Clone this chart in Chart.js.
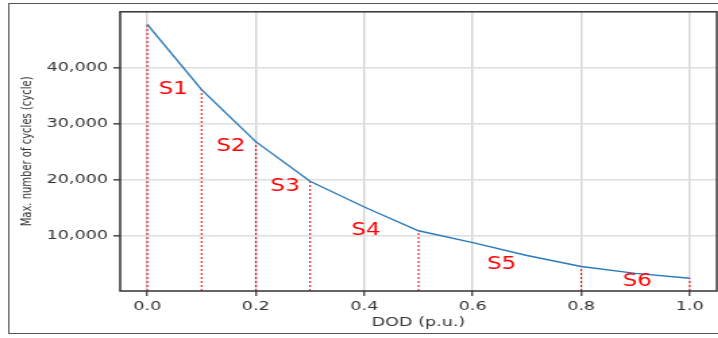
<!DOCTYPE html>
<html>
<head>
<meta charset="utf-8">
<script src="https://cdn.jsdelivr.net/npm/chart.js@4"></script>
<style>
  html, body { margin: 0; padding: 0; background: #fff; overflow: hidden; }
  #wrap { width: 532px; height: 338px; transform: scaleX(1.35); transform-origin: 0 0; }
</style>
</head>
<body>
<div id="wrap"><canvas id="chart" width="532" height="338"></canvas></div>
<script>
// curve: max number of cycles vs depth of discharge
const dod = [0.0, 0.1, 0.2, 0.3, 0.4, 0.5, 0.6, 0.7, 0.8, 0.9, 1.0];
const cycles = [47640, 36030, 26770, 19710, 15120, 10890, 8770, 6480, 4530, 3300, 2420];

// segment boundaries (red dotted lines)
const markers = [0.0, 0.1, 0.2, 0.3, 0.5, 0.8, 1.0];

// segment labels
const segNames = ['S1', 'S2', 'S3', 'S4', 'S5', 'S6'];
const segX = [0.048, 0.154, 0.254, 0.403, 0.653, 0.903];
const segY = [36030, 25890, 18830, 10890, 4890, 1800];

const xTicks = [0.0, 0.2, 0.4, 0.6, 0.8, 1.0];
const yTicks = [10000, 20000, 30000, 40000];

const X_MIN = -0.05, X_MAX = 1.05;
const Y_MIN = 160, Y_MAX = 49900;

const FONT = 'DejaVu Sans';

const markerSets = markers.map(m => ({
  data: [{ x: m, y: Y_MIN }, { x: m, y: cycles[dod.indexOf(m)] }],
  borderColor: '#ff0000',
  borderWidth: 1,
  borderDash: [2, 2],
  pointRadius: 0,
  order: 2,
}));

const extras = {
  id: 'extras',
  afterDraw(chart) {
    const ctx = chart.ctx;
    const { left, top, right, bottom } = chart.chartArea;
    const xs = chart.scales.x, ys = chart.scales.y;
    ctx.save();
    // segment labels
    ctx.fillStyle = '#ff0000';
    ctx.font = '17px "' + FONT + '"';
    ctx.textAlign = 'center';
    ctx.textBaseline = 'middle';
    segNames.forEach((s, i) => {
      ctx.fillText(s, xs.getPixelForValue(segX[i]), ys.getPixelForValue(segY[i]));
    });
    // axes frame
    ctx.strokeStyle = '#333';
    ctx.lineWidth = 1.5;
    ctx.strokeRect(left, top, right - left, bottom - top);
    // figure border
    ctx.strokeStyle = '#555';
    ctx.lineWidth = 1;
    ctx.strokeRect(6.5, 3.5, 600, 330);
    ctx.restore();
  }
};

new Chart(document.getElementById('chart').getContext('2d'), {
  type: 'line',
  data: {
    datasets: [
      {
        data: dod.map((d, i) => ({ x: d, y: cycles[i] })),
        borderColor: '#2a7ab9',
        borderWidth: 1.4,
        pointRadius: 0,
        tension: 0,
        order: 1,
      },
      ...markerSets,
    ],
  },
  options: {
    responsive: false,
    animation: false,
    devicePixelRatio: 1,
    layout: { padding: { top: 9, right: 1, left: 0, bottom: 0 } },
    plugins: { legend: { display: false }, tooltip: { enabled: false } },
    scales: {
      x: {
        type: 'linear',
        min: X_MIN,
        max: X_MAX,
        afterBuildTicks: s => { s.ticks = xTicks.map(v => ({ value: v })); },
        afterFit: s => { s.height = 47; },
        ticks: {
          callback: v => v.toFixed(1),
          font: { family: FONT, size: 13 },
          color: '#333',
          padding: 3,
          maxRotation: 0,
        },
        grid: { color: '#d4d4d4', lineWidth: 1.4, tickLength: 5, tickColor: '#555' },
        border: { display: false },
        title: {
          display: true,
          text: 'DOD (p.u.)',
          font: { family: FONT, size: 13 },
          color: '#333',
          padding: { top: 8, bottom: 8 },
        },
      },
      y: {
        min: Y_MIN,
        max: Y_MAX,
        afterBuildTicks: s => { s.ticks = yTicks.map(v => ({ value: v })); },
        afterFit: s => { s.width = 89; },
        ticks: {
          callback: v => v.toLocaleString('en-US'),
          font: { family: FONT, size: 13 },
          color: '#333',
          padding: 4,
        },
        grid: { color: '#dedede', lineWidth: 1.6, tickLength: 5, tickColor: '#555' },
        border: { display: false },
        title: {
          display: true,
          text: 'Max. number of cycles (cycle)',
          font: { family: FONT, size: 10 },
          color: '#333',
          padding: { top: 14.5, bottom: 0 },
        },
      },
    },
  },
  plugins: [extras],
});
</script>
</body>
</html>
